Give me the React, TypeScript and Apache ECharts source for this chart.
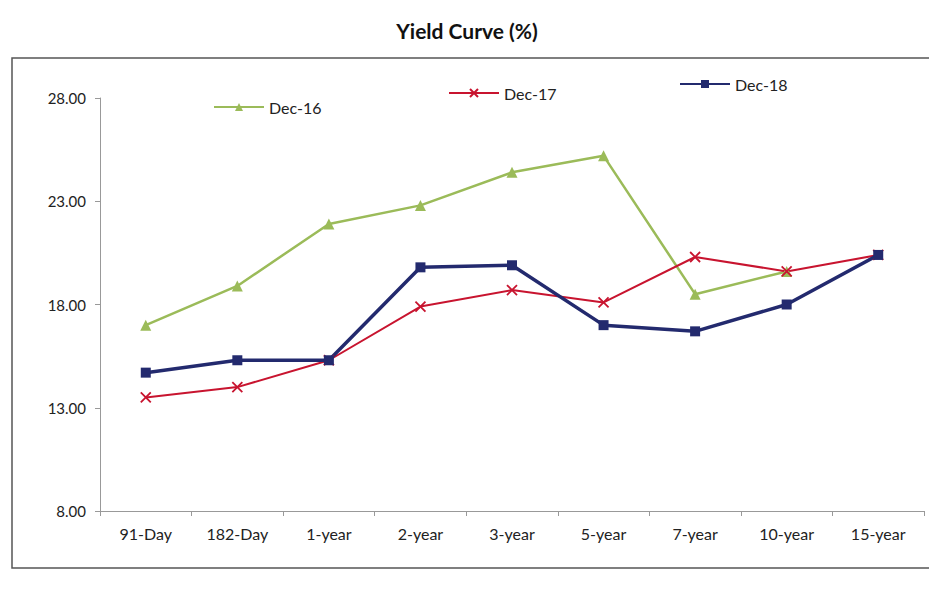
import React, { useEffect, useRef } from "react";
import * as echarts from "echarts";

const categories = ["91-Day", "182-Day", "1-year", "2-year", "3-year", "5-year", "7-year", "10-year", "15-year"];
const dec16 = [17.0, 18.9, 21.9, 22.8, 24.4, 25.2, 18.5, 19.6, null];
const dec17 = [13.5, 14.0, 15.3, 17.9, 18.7, 18.1, 20.3, 19.6, 20.4];
const dec18 = [14.7, 15.3, 15.3, 19.8, 19.9, 17.0, 16.7, 18.0, 20.4];
const seriesNames = ["Dec-16", "Dec-17", "Dec-18"];

const FONT = "Lato, 'Open Sans', sans-serif";

export default function App() {
  const ref = useRef<HTMLDivElement>(null);
  useEffect(() => {
    if (!ref.current) return;
    const chart = echarts.init(ref.current, undefined, { renderer: "svg" });
    const legendCommon = {
      orient: "horizontal",
      itemWidth: 50,
      itemHeight: 10,
      textStyle: { fontFamily: FONT, fontSize: 16, color: "#222" },
    };
    chart.setOption({
      animation: false,
      backgroundColor: "#fff",
      title: {
        text: "Yield Curve (%)",
        left: 462,
        top: 15,
        textAlign: "center",
        textStyle: { fontFamily: FONT, fontSize: 21, fontWeight: "bold", color: "#111" },
      },
      graphic: [
        {
          type: "rect",
          shape: { x: 12, y: 58, width: 1000, height: 510 },
          style: { fill: "none", stroke: "#555", lineWidth: 1.5 },
          silent: true,
          z: -1,
        },
      ],
      legend: [
        { ...legendCommon, data: [seriesNames[0]], left: 208, top: 94 },
        { ...legendCommon, data: [seriesNames[1]], left: 443, top: 80 },
        { ...legendCommon, data: [seriesNames[2]], left: 674, top: 71 },
      ],
      grid: { left: 100, right: 5, top: 98, bottom: 80, containLabel: false },
      xAxis: {
        type: "category",
        data: categories,
        boundaryGap: true,
        axisLine: { lineStyle: { color: "#999", width: 1 } },
        axisTick: { show: true, length: 5, lineStyle: { color: "#999" } },
        axisLabel: { fontFamily: FONT, fontSize: 16, color: "#222", margin: 14 },
        splitLine: { show: false },
      },
      yAxis: {
        type: "value",
        min: 8,
        max: 28,
        interval: 5,
        axisLine: { show: true, lineStyle: { color: "#999", width: 1 } },
        axisTick: { show: true, length: 5, lineStyle: { color: "#999" } },
        axisLabel: {
          fontFamily: FONT,
          fontSize: 15,
          color: "#222",
          margin: 14,
          formatter: (v: number) => v.toFixed(2),
        },
        splitLine: { show: false },
      },
      series: [
        {
          name: seriesNames[0],
          type: "line",
          data: dec16,
          symbol: "triangle",
          symbolSize: 11,
          lineStyle: { color: "#9bbb59", width: 2.5 },
          itemStyle: { color: "#9bbb59" },
        },
        {
          name: seriesNames[1],
          type: "line",
          data: dec17,
          symbol: "path://M0,0L10,10M10,0L0,10",
          symbolSize: 10,
          lineStyle: { color: "#c8142f", width: 2 },
          itemStyle: { color: "#c8142f", borderColor: "#c8142f", borderWidth: 1.8 },
        },
        {
          name: seriesNames[2],
          type: "line",
          data: dec18,
          symbol: "rect",
          symbolSize: 10,
          lineStyle: { color: "#232a6e", width: 3.5 },
          itemStyle: { color: "#232a6e" },
        },
      ],
    });
    return () => chart.dispose();
  }, []);
  return (
    <div
      ref={ref}
      style={{ position: "absolute", left: 0, top: 0, width: 929, height: 591, overflow: "hidden" }}
    />
  );
}
